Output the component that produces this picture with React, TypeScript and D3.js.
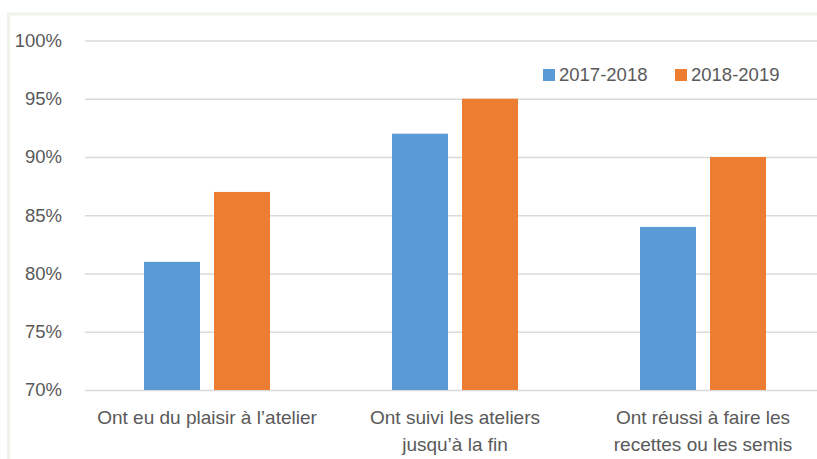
import * as React from 'react';
import * as d3 from 'd3';

const categories = [
  ['Ont eu du plaisir à l’atelier'],
  ['Ont suivi les ateliers', 'jusqu’à la fin'],
  ['Ont réussi à faire les', 'recettes ou les semis'],
];
const seriesNames = ['2017-2018', '2018-2019'];
const values2017 = [81, 92, 84];
const values2018 = [87, 95, 90];
const yTicks = [70, 75, 80, 85, 90, 95, 100];
const colors = ['#5B9BD5', '#ED7D31'];

class App extends React.Component {
  private element;

  componentDidMount() {
    this.draw();
  }

  draw() {
    const W = 817;
    const H = 459;
    const font = '"Liberation Sans", Arial, sans-serif';
    const textColor = '#595959';
    const svg = d3.select(this.element).attr('width', W).attr('height', H);
    svg.selectAll('*').remove();

    svg.append('rect').attr('width', W).attr('height', H).attr('fill', '#fff');

    // faint outer frame of the chart area
    svg.append('rect')
      .attr('x', 8.5)
      .attr('y', 14)
      .attr('width', W + 20)
      .attr('height', H + 20)
      .attr('fill', 'none')
      .attr('stroke', '#eef4ea')
      .attr('stroke-width', 3);

    const left = 85;
    const right = W;
    const y = d3.scaleLinear().domain([70, 100]).range([390, 40.5]);

    const x0 = d3.scaleBand()
      .domain(categories.map((c, i) => String(i)))
      .range([83, 827]);
    const x1 = d3.scaleBand()
      .domain(seriesNames)
      .range([61, 187])
      .paddingInner(0.2);

    const yAxis = d3.axisLeft(y)
      .tickValues(yTicks)
      .tickSizeInner(-(right - left))
      .tickSizeOuter(0)
      .tickPadding(23)
      .tickFormat((d: any) => `${d}%`);

    const yg = svg.append('g')
      .attr('transform', `translate(${left}, 0)`)
      .call(yAxis);
    yg.select('.domain').remove();
    yg.selectAll('.tick line').attr('stroke', '#d9d9d9').attr('stroke-width', 1.3);
    yg.selectAll('.tick text')
      .attr('fill', textColor)
      .attr('font-family', font)
      .attr('font-size', '18.5px');

    const series = [values2017, values2018];
    const groups = svg.append('g').selectAll('g')
      .data(categories)
      .enter()
      .append('g')
      .attr('transform', (d, i) => `translate(${x0(String(i))}, 0)`);

    groups.selectAll('rect')
      .data((d, i) => seriesNames.map((s, j) => ({ name: s, value: series[j][i], color: colors[j] })))
      .enter()
      .append('rect')
      .attr('x', (d: any) => x1(d.name))
      .attr('width', x1.bandwidth())
      .attr('y', (d: any) => y(d.value))
      .attr('height', (d: any) => y(70) - y(d.value))
      .attr('fill', (d: any) => d.color);

    // category labels
    const labels = svg.append('g').selectAll('text')
      .data(categories)
      .enter()
      .append('text')
      .attr('x', (d, i) => x0(String(i)) + x0.bandwidth() / 2)
      .attr('y', 424)
      .attr('text-anchor', 'middle')
      .attr('fill', textColor)
      .attr('font-family', font)
      .attr('font-size', '19px');
    labels.selectAll('tspan')
      .data((d) => d)
      .enter()
      .append('tspan')
      .attr('x', function () { return (this.parentNode as any).getAttribute('x'); })
      .attr('dy', (d, i) => (i === 0 ? 0 : 27))
      .text((d) => d);

    // legend
    const legendX = [543, 675];
    const legend = svg.append('g').selectAll('g')
      .data(seriesNames)
      .enter()
      .append('g')
      .attr('transform', (d, i) => `translate(${legendX[i]}, 75)`);
    legend.append('rect')
      .attr('x', 0)
      .attr('y', -6)
      .attr('width', 12)
      .attr('height', 12)
      .attr('fill', (d, i) => colors[i]);
    legend.append('text')
      .attr('x', 16)
      .attr('y', 0)
      .attr('dy', '0.35em')
      .attr('fill', textColor)
      .attr('font-family', font)
      .attr('font-size', '18.5px')
      .text((d) => d);
  }

  render() {
    return (
      <svg
        ref={(ref) => (this.element = ref)}
        style={{ position: 'absolute', left: 0, top: 0, display: 'block' }}
      />
    );
  }
}

export default App;
